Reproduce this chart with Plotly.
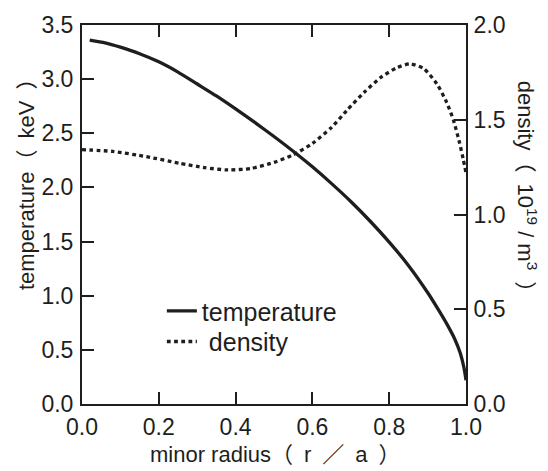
import plotly.graph_objects as go

# Data
r_temp = [0.02, 0.06, 0.1, 0.15, 0.2, 0.25, 0.3, 0.35, 0.4, 0.45, 0.5, 0.555, 0.6, 0.65, 0.7,
          0.75, 0.8, 0.85, 0.9, 0.93, 0.95, 0.97, 0.985, 0.995, 1.0]
temperature = [3.36, 3.335, 3.295, 3.235, 3.16, 3.065, 2.955, 2.845, 2.725, 2.60, 2.47, 2.32, 2.19, 2.035, 1.87,
               1.69, 1.495, 1.28, 1.03, 0.86, 0.74, 0.605, 0.47, 0.33, 0.22]

r_dens = [0.0, 0.08, 0.168, 0.255, 0.32, 0.38, 0.44, 0.5, 0.55, 0.6, 0.65, 0.69, 0.735, 0.776,
          0.82, 0.854, 0.89, 0.924, 0.95, 0.967, 0.983, 0.993, 1.0]
density = [1.342, 1.333, 1.305, 1.27, 1.247, 1.235, 1.243, 1.275, 1.315, 1.375, 1.46, 1.55, 1.645, 1.72,
           1.775, 1.795, 1.77, 1.69, 1.59, 1.50, 1.38, 1.29, 1.22]

x_ticks = [0.0, 0.2, 0.4, 0.6, 0.8, 1.0]
t_ticks = [0.0, 0.5, 1.0, 1.5, 2.0, 2.5, 3.0, 3.5]
d_ticks = [0.0, 0.5, 1.0, 1.5, 2.0]

SP = "\u2002"
x_title = f"minor radius\uff08{SP}r{SP}\uff0f{SP}a{SP}\uff09"
t_title = f"temperature\uff08{SP}keV{SP}\uff09"
d_title = f"density\uff08{SP}10<sup>19</sup> / m<sup>3</sup>{SP}\uff09"

FONT = "Liberation Sans, Arial, Noto Sans CJK JP, sans-serif"
INK = "#1e1e1e"

fig = go.Figure()
fig.add_trace(go.Scatter(
    x=r_temp, y=temperature, name="temperature", mode="lines",
    line=dict(color=INK, width=3.3, shape="spline", smoothing=0.6),
    yaxis="y", legend="legend"))
fig.add_trace(go.Scatter(
    x=r_dens, y=density, name="\u00a0density", mode="lines",
    line=dict(color=INK, width=3.3, dash="3.8px,3.4px", shape="spline", smoothing=0.6),
    yaxis="y2", legend="legend2"))

axis_common = dict(
    showline=True, linecolor=INK, linewidth=2,
    ticks="inside", ticklen=12, tickwidth=1.8, tickcolor=INK,
    showgrid=False, zeroline=False,
    tickfont=dict(family=FONT, size=23, color=INK),
)

legend_common = dict(xanchor="left", yanchor="top", bgcolor="rgba(0,0,0,0)", borderwidth=0,
                     font=dict(family=FONT, size=25, color=INK))

fig.update_layout(
    width=548, height=471,
    margin=dict(l=82, r=82, t=19, b=67),
    paper_bgcolor="white", plot_bgcolor="white",
    font=dict(family=FONT, color=INK),
    xaxis=dict(range=[0, 1.0], tickvals=x_ticks, ticktext=[f"{v:.1f}" for v in x_ticks],
               mirror="ticks", ticklabelstandoff=1, **axis_common),
    yaxis=dict(range=[0, 3.5], tickvals=t_ticks, ticktext=[f"{v:.1f}" for v in t_ticks],
               ticklabelstandoff=2, **axis_common),
    yaxis2=dict(range=[0, 2.0], tickvals=d_ticks, ticktext=[f"{v:.1f}" for v in d_ticks],
                overlaying="y", side="right", ticklabelstandoff=1, **axis_common),
    showlegend=True,
    legend=dict(x=0.208, y=0.3057, **legend_common),
    legend2=dict(x=0.208, y=0.225, **legend_common),
    annotations=[
        dict(text=x_title, xref="paper", yref="paper", x=0.503, y=-0.134,
             xanchor="center", yanchor="middle", showarrow=False,
             font=dict(family=FONT, size=22, color=INK)),
        dict(text=t_title, xref="paper", yref="paper", x=-0.146, y=0.596,
             xanchor="center", yanchor="middle", textangle=-90, showarrow=False,
             font=dict(family=FONT, size=22, color=INK)),
        dict(text=d_title, xref="paper", yref="paper", x=1.159, y=0.56,
             xanchor="center", yanchor="middle", textangle=90, showarrow=False,
             font=dict(family=FONT, size=22, color=INK)),
    ],
)

fig.write_html("out.html")
